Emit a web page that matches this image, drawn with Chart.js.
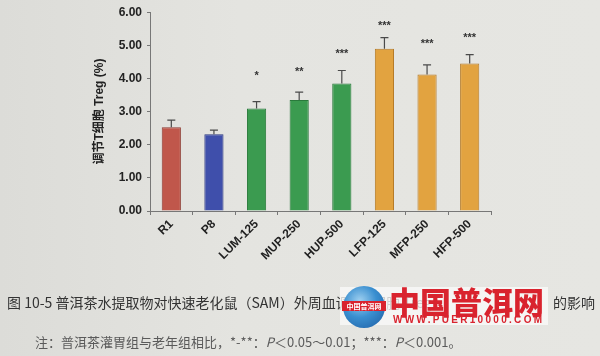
<!DOCTYPE html>
<html>
<head>
<meta charset="utf-8">
<script src="https://cdn.jsdelivr.net/npm/chart.js@4"></script>
<style>
  html,body{margin:0;padding:0;background:#e3e3df;}
  #wrap{position:relative;width:600px;height:356px;overflow:hidden;background:linear-gradient(90deg,#dcdcd8 0%,#e4e4e0 40%,#e6e6e2 100%);}
  #c{position:absolute;left:0;top:0;}
  .txt{position:absolute;white-space:nowrap;font-family:"Noto Sans CJK SC","Noto Sans",sans-serif;}
</style>
</head>
<body>
<div id="wrap">
  <canvas id="c" width="600" height="356"></canvas>
  <div class="txt" id="cap1" style="left:7px;top:292px;font-size:14px;line-height:20px;color:#333;">图 10-5 普洱茶水提取物对快速老化鼠（SAM）外周血调节T细胞 Treg</div>
  <div class="txt" style="left:553px;top:292px;font-size:14px;line-height:20px;color:#333;">的影响</div>
  <div class="txt" style="left:35px;top:333px;font-size:13px;line-height:18px;color:#5a5a5a;">注：普洱茶灌胃组与老年组相比，*-**：<i>P</i>＜0.05～0.01；***：<i>P</i>＜0.001。</div>
  <div style="position:absolute;left:340px;top:287px;width:208px;height:38px;background:rgba(250,250,248,0.78);"></div>
  <div style="position:absolute;left:343px;top:286px;width:42px;height:42px;border-radius:50%;background:radial-gradient(circle at 40% 35%,#9fd0f0 0%,#3a8fd0 45%,#1b5aa0 100%);"></div>
  <div class="txt" style="left:342px;top:301px;width:44px;height:10px;background:#d9232e;color:#fff;font-size:7px;line-height:10px;font-weight:bold;text-align:center;">中国普洱网</div>
  <div class="txt" style="left:389px;top:283px;font-size:31px;line-height:36px;font-weight:900;color:#d9232e;">中国普洱网</div>
  <div class="txt" style="left:393px;top:314px;font-size:10px;line-height:12px;font-weight:bold;letter-spacing:2.3px;color:#d9232e;font-family:'Liberation Sans',Arial,sans-serif;">WWW.PUER10000.COM</div>
</div>
<script>
// ---- data ----
const categories = ["R1","P8","LUM-125","MUP-250","HUP-500","LFP-125","MFP-250","HFP-500"];
const treg = [2.53, 2.32, 3.09, 3.35, 3.85, 4.90, 4.12, 4.45];
const treqErr = [0.21, 0.12, 0.21, 0.24, 0.39, 0.33, 0.29, 0.27];
const sigLabels = ["", "", "*", "**", "***", "***", "***", "***"];
const sigY = [null, null, 4.15, 4.26, 4.79, 5.65, 5.09, 5.29];
const yTicks = [0, 1, 2, 3, 4, 5, 6];
const barColors = ["#c0574b","#3f4fab","#3b9b50","#3b9b50","#3b9b50","#e2a340","#e2a340","#e2a340"];
const barBorders = ["#8e3a32","#2b3780","#2a7a3c","#2a7a3c","#2a7a3c","#b47a28","#b47a28","#b47a28"];

const errPlugin = {
  id: 'errbars',
  afterDatasetsDraw(chart) {
    const ctx = chart.ctx;
    const y = chart.scales.y;
    const meta = chart.getDatasetMeta(0);
    ctx.save();
    meta.data.forEach((bar, i) => {
      const x = bar.x;
      const yTop = y.getPixelForValue(treg[i]);
      const yErr = y.getPixelForValue(treg[i] + treqErr[i]);
      ctx.strokeStyle = '#4a4a4a';
      ctx.lineWidth = 1.2;
      ctx.beginPath();
      ctx.moveTo(x, yTop);
      ctx.lineTo(x, yErr);
      ctx.moveTo(x - 4, yErr);
      ctx.lineTo(x + 4, yErr);
      ctx.stroke();
      if (sigLabels[i] && sigY[i] != null) {
        ctx.fillStyle = '#333';
        ctx.font = 'bold 11px "Liberation Sans", Arial, sans-serif';
        ctx.textAlign = 'center';
        ctx.textBaseline = 'middle';
        ctx.fillText(sigLabels[i], x, y.getPixelForValue(sigY[i]) + 2);
      }
    });
    ctx.restore();
  }
};

new Chart(document.getElementById('c'), {
  type: 'bar',
  data: {
    labels: categories,
    datasets: [{
      data: treg,
      backgroundColor: barColors,
      borderColor: barBorders,
      borderWidth: 1,
      barPercentage: 0.9,
      categoryPercentage: 0.5
    }]
  },
  options: {
    responsive: false,
    animation: false,
    devicePixelRatio: 1,
    layout: { padding: { left: 92, right: 109, top: 7, bottom: 0 } },
    plugins: { legend: { display: false }, tooltip: { enabled: false } },
    scales: {
      x: {
        grid: { display: true, drawOnChartArea: false, drawTicks: true, tickLength: 4, color: '#777', offset: true },
        border: { display: true, color: '#777', width: 1 },
        ticks: {
          minRotation: 45, maxRotation: 45, padding: 2, autoSkip: false,
          color: '#222',
          font: { family: '"Liberation Sans", Arial, sans-serif', size: 12, weight: 'bold' }
        },
        afterFit(s) { s.height = 145; }
      },
      y: {
        min: 0, max: 6,
        afterBuildTicks(s) { s.ticks = yTicks.map(v => ({ value: v })); },
        grid: { display: true, drawOnChartArea: false, drawTicks: true, tickLength: 3, color: '#777' },
        border: { display: true, color: '#777', width: 1 },
        ticks: {
          padding: 5,
          color: '#222',
          font: { family: '"Liberation Sans", Arial, sans-serif', size: 12, weight: 'bold' },
          callback: v => Number(v).toFixed(2)
        },
        title: {
          display: true,
          text: '调节T细胞 Treg (%)',
          color: '#222',
          padding: { top: 0, bottom: 4 },
          font: { family: '"Liberation Sans", "Noto Sans CJK SC", sans-serif', size: 12, weight: 'bold' }
        },
        afterFit(s) { s.width = 58; }
      }
    }
  },
  plugins: [errPlugin]
});
</script>
</body>
</html>
